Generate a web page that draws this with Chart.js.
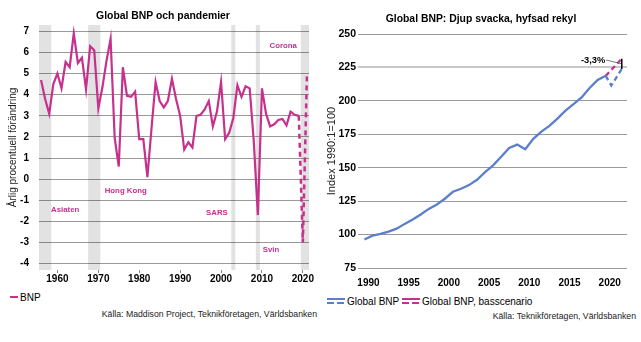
<!DOCTYPE html>
<html>
<head>
<meta charset="utf-8">
<script src="https://cdn.jsdelivr.net/npm/chart.js@4"></script>
<style>
	body { margin: 0; background: #fff; font-family: "Liberation Sans", Arial, sans-serif; }
	#ram { position: relative; width: 641px; height: 342px; overflow: hidden; }
	canvas { position: absolute; top: 0; }
	.txt { position: absolute; white-space: nowrap; color: #000; }
	.titel { font-weight: bold; font-size: 10.4px; transform: translate(-50%, -50%); }
	.leg { font-size: 10px; transform: translateY(-50%); }
	.kalla { font-size: 8.7px; color: #222; transform: translateY(-50%); }
	.sym { position: absolute; }
</style>
</head>
<body>
<div id="ram">
	<canvas id="pandemier" width="320" height="290" style="left:0"></canvas>
	<canvas id="rekyl" width="321" height="290" style="left:320px"></canvas>

	<div class="txt titel" style="left:163px; top:15px">Global BNP och pandemier</div>
	<div class="txt titel" style="left:481px; top:18px">Global BNP: Djup svacka, hyfsad rekyl</div>

	<div class="sym" style="left:10px; top:295.5px; width:8px; height:2.5px; background:#c5318c"></div>
	<div class="txt leg" style="left:20px; top:296.7px">BNP</div>

	<div class="sym" style="left:327px; top:298px; width:18px; height:2px; background:#5b7fcb"></div>
	<div class="sym" style="left:327px; top:301.5px; width:18px; height:2px; background:repeating-linear-gradient(to right, #5b7fcb 0 7px, transparent 7px 10px)"></div>
	<div class="txt leg" style="left:347px; top:300.7px">Global BNP</div>
	<div class="sym" style="left:401.5px; top:298px; width:18px; height:2px; background:#c5318c"></div>
	<div class="sym" style="left:401.5px; top:301.5px; width:18px; height:2px; background:repeating-linear-gradient(to right, #c5318c 0 7px, transparent 7px 10px)"></div>
	<div class="txt leg" style="left:422px; top:300.7px">Global BNP, basscenario</div>

	<div class="txt kalla" style="right:324px; top:314px">Källa: Maddison Project, Teknikföretagen, Världsbanken</div>
	<div class="txt kalla" style="right:5px; top:316px">Källa: Teknikföretagen, Världsbanken</div>
</div>
<script>
	// BNP-tillväxt per år (%), 1956-2019
	var bnpAr = [];
	for (var i = 1956; i <= 2019; i++) bnpAr.push(i);
	var bnpTillvaxt = [4.7, 3.8, 3.1, 4.5, 5.0, 4.3, 5.55, 5.3, 6.9, 5.5,
		5.75, 4.25, 6.3, 6.1, 3.35, 4.35, 5.6, 6.65, 1.95, 0.6,
		5.3, 3.95, 3.9, 4.15, 1.9, 1.9, 0.1, 2.4, 4.6, 3.7,
		3.4, 3.7, 4.75, 3.8, 3.0, 1.4, 1.75, 1.5, 3.0, 3.05,
		3.3, 3.7, 2.5, 3.2, 4.6, 1.9, 2.2, 2.9, 4.45, 3.9,
		4.4, 4.3, 1.8, -1.7, 4.3, 3.1, 2.5, 2.6, 2.8, 2.85,
		2.55, 3.2, 3.05, 3.0];

	// prognos 2020-2021
	var prognosAr = [2019, 2020, 2021];
	var prognosTillvaxt = [3.0, -3.0, 5.0];

	// pandemier (första och sista år)
	var pandemiNamn = ['Asiaten', 'Hong Kong', 'SARS', 'Svin', 'Corona'];
	var pandemiStart = [1956, 1968, 2003, 2009, 2020];
	var pandemiSlut = [1958, 1970, 2003, 2009, 2021];

	var xTicksVanster = [1960, 1970, 1980, 1990, 2000, 2010, 2020];
	var yTicksVanster = [-4, -3, -2, -1, 0, 1, 2, 3, 4, 5, 6, 7];

	// Global BNP, index 1990:1=100 (årsvärden)
	var indexAr = [];
	for (var i = 1989; i <= 2019; i++) indexAr.push(i);
	var indexBnp = [96.3, 99.2, 100.5, 102.2, 104.4, 108.0, 111.3, 115.0, 119.2, 122.5,
		126.8, 132.0, 134.3, 137.0, 141.0, 146.7, 151.8, 158.2, 164.8, 167.3,
		163.8, 171.6, 177.0, 181.3, 186.7, 192.7, 197.5, 202.6, 209.6, 215.6,
		218.7];

	// scenarier efter 2019 (tid i decimalår)
	var scenarioTid = [2019.5, 2020.2, 2021.5];
	var scenarioBnp = [218.7, 211.5, 223.9];
	var basTid = [2019.5, 2021.5];
	var basBnp = [218.7, 231.5];
	var skillnadText = '-3,3%';

	var xTicksHoger = [1990, 1995, 2000, 2005, 2010, 2015, 2020];

	var rosa = '#c5318c';
	var bla = '#5b7fcb';

	Chart.defaults.font.family = '"Liberation Sans", Arial, sans-serif';
	Chart.defaults.color = '#000';

	// etiketternas placering i diagrammet (år, procent)
	var etikettPos = [[1961.9, -1.47], [1976.7, -0.57], [1999.0, -1.58], [2012.2, -3.36], [2015.2, 6.29]];

	// grå fält för pandemiåren, ritas under linjerna
	let pandemiFalt = {
		id: 'pandemiFalt',
		beforeDatasetsDraw(chart) {
			let c = chart.ctx, x = chart.scales.x, area = chart.chartArea;
			c.save();
			c.fillStyle = 'rgba(0,0,0,0.115)';
			for (var p = 0; p < pandemiStart.length; p++) {
				let x1 = Math.max(area.left, x.getPixelForValue(pandemiStart[p] - 0.5));
				let x2 = Math.min(area.right, x.getPixelForValue(pandemiSlut[p] + 0.5));
				c.fillRect(x1, area.top, x2 - x1, area.bottom - area.top);
			}
			c.restore();
		}
	};

	let pandemiText = {
		id: 'pandemiText',
		afterDatasetsDraw(chart) {
			let c = chart.ctx, x = chart.scales.x, y = chart.scales.y;
			c.save();
			c.font = 'bold 7.8px "Liberation Sans", Arial, sans-serif';
			c.fillStyle = rosa;
			c.textAlign = 'center';
			c.textBaseline = 'middle';
			pandemiNamn.forEach(function(namn, i) {
				c.fillText(namn, x.getPixelForValue(etikettPos[i][0]), y.getPixelForValue(etikettPos[i][1]));
			});
			c.restore();
		}
	};

	let ctx = document.getElementById('pandemier');
	let chart = new Chart(ctx, {
		type: 'line',
		data: {
			datasets: [{
				data: bnpAr.map(function(a, i) { return {x: a, y: bnpTillvaxt[i]}; }),
				borderColor: rosa,
				borderWidth: 2.2,
				pointRadius: 0,
				tension: 0
			}, {
				data: prognosAr.map(function(a, i) { return {x: a, y: prognosTillvaxt[i]}; }),
				borderColor: rosa,
				borderWidth: 2.5,
				borderDash: [5, 4],
				pointRadius: 0,
				tension: 0
			}]
		},
		options: {
			responsive: false,
			animation: false,
			devicePixelRatio: 1,
			layout: { padding: { top: 25, right: 11, bottom: 0, left: 0 } },
			plugins: { legend: { display: false }, tooltip: { enabled: false } },
			scales: {
				x: {
					type: 'linear',
					min: 1955.5,
					max: 2021.5,
					afterBuildTicks: function(axis) { axis.ticks = xTicksVanster.map(function(v) { return {value: v}; }); },
					afterFit: function(axis) { axis.height = 20; },
					grid: { drawOnChartArea: false, drawTicks: true, tickLength: 3, color: '#888' },
					border: { display: false },
					ticks: { padding: 0, font: { size: 10, weight: 'bold' }, callback: function(v) { return String(v); } }
				},
				y: {
					min: -4.3,
					max: 7.3,
					afterBuildTicks: function(axis) { axis.ticks = yTicksVanster.map(function(v) { return {value: v}; }); },
					afterFit: function(axis) { axis.width = 39; },
					grid: { color: '#999', drawTicks: false },
					border: { display: false },
					ticks: { padding: 10, font: { size: 10, weight: 'bold' }, callback: function(v) { return String(v); } },
					title: { display: true, text: 'Årlig procentuell förändring', font: { size: 10 }, color: '#222', padding: { top: 7, bottom: 0 } }
				}
			}
		},
		plugins: [pandemiFalt, pandemiText]
	});

	// markering av skillnaden mellan scenarierna 2021
	let skillnad = {
		id: 'skillnad',
		afterDatasetsDraw(chart) {
			let c = chart.ctx, x = chart.scales.x, y = chart.scales.y;
			let sx = x.getPixelForValue(basTid[basTid.length - 1]);
			let y1 = y.getPixelForValue(basBnp[basBnp.length - 1]);
			let y2 = y.getPixelForValue(scenarioBnp[scenarioBnp.length - 1]);
			let tx = x.getPixelForValue(2019.45), ty = y.getPixelForValue(230.5);
			c.save();
			c.strokeStyle = '#555';
			c.lineWidth = 0.8;
			c.beginPath();
			c.moveTo(tx + 1, ty);
			c.lineTo(sx, (y1 + y2) / 2);
			c.stroke();
			c.strokeStyle = '#000';
			c.lineWidth = 1.5;
			c.beginPath();
			c.moveTo(sx, y1);
			c.lineTo(sx, y2);
			c.stroke();
			c.font = 'bold 9.3px "Liberation Sans", Arial, sans-serif';
			c.fillStyle = '#000';
			c.textAlign = 'right';
			c.textBaseline = 'middle';
			c.fillText(skillnadText, tx, ty);
			c.restore();
		}
	};

	let ctx2 = document.getElementById('rekyl');
	let chart2 = new Chart(ctx2, {
		type: 'line',
		data: {
			datasets: [{
				// årsvärden ritas vid mitten av året
				data: indexAr.map(function(a, i) { return {x: a + 0.5, y: indexBnp[i]}; }),
				borderColor: bla,
				borderWidth: 2.3,
				pointRadius: 0,
				tension: 0
			}, {
				data: scenarioTid.map(function(t, i) { return {x: t, y: scenarioBnp[i]}; }),
				borderColor: bla,
				borderWidth: 2.3,
				borderDash: [5, 3.5],
				pointRadius: 0,
				tension: 0
			}, {
				data: basTid.map(function(t, i) { return {x: t, y: basBnp[i]}; }),
				borderColor: rosa,
				borderWidth: 2.3,
				borderDash: [5, 3.5],
				pointRadius: 0,
				tension: 0
			}]
		},
		options: {
			responsive: false,
			animation: false,
			devicePixelRatio: 1,
			layout: { padding: { top: 34, right: 14, bottom: 0, left: 0 } },
			plugins: { legend: { display: false }, tooltip: { enabled: false } },
			scales: {
				x: {
					type: 'linear',
					min: 1988.7,
					max: 2022.15,
					afterBuildTicks: function(axis) { axis.ticks = xTicksHoger.map(function(v) { return {value: v}; }); },
					afterFit: function(axis) { axis.height = 22; },
					grid: { drawOnChartArea: false, drawTicks: false },
					border: { display: false },
					ticks: { padding: 9, font: { size: 10, weight: 'bold' }, callback: function(v) { return String(v); } }
				},
				y: {
					min: 75,
					max: 250,
					ticks: { stepSize: 25, padding: 2, font: { size: 10.5, weight: 'bold' } },
					afterFit: function(axis) { axis.width = 38; },
					grid: {
						drawTicks: false,
						color: function(c) { return c.tick && c.tick.value === 225 ? '#c8c8c8' : '#999'; },
						lineWidth: function(c) { return c.tick && c.tick.value === 225 ? 2 : 1; }
					},
					border: { display: false },
					title: { display: true, text: 'Index 1990:1=100', font: { size: 11 }, color: '#222', padding: { top: 5, bottom: 0 } }
				}
			}
		},
		plugins: [skillnad]
	});
</script>
</body>
</html>
